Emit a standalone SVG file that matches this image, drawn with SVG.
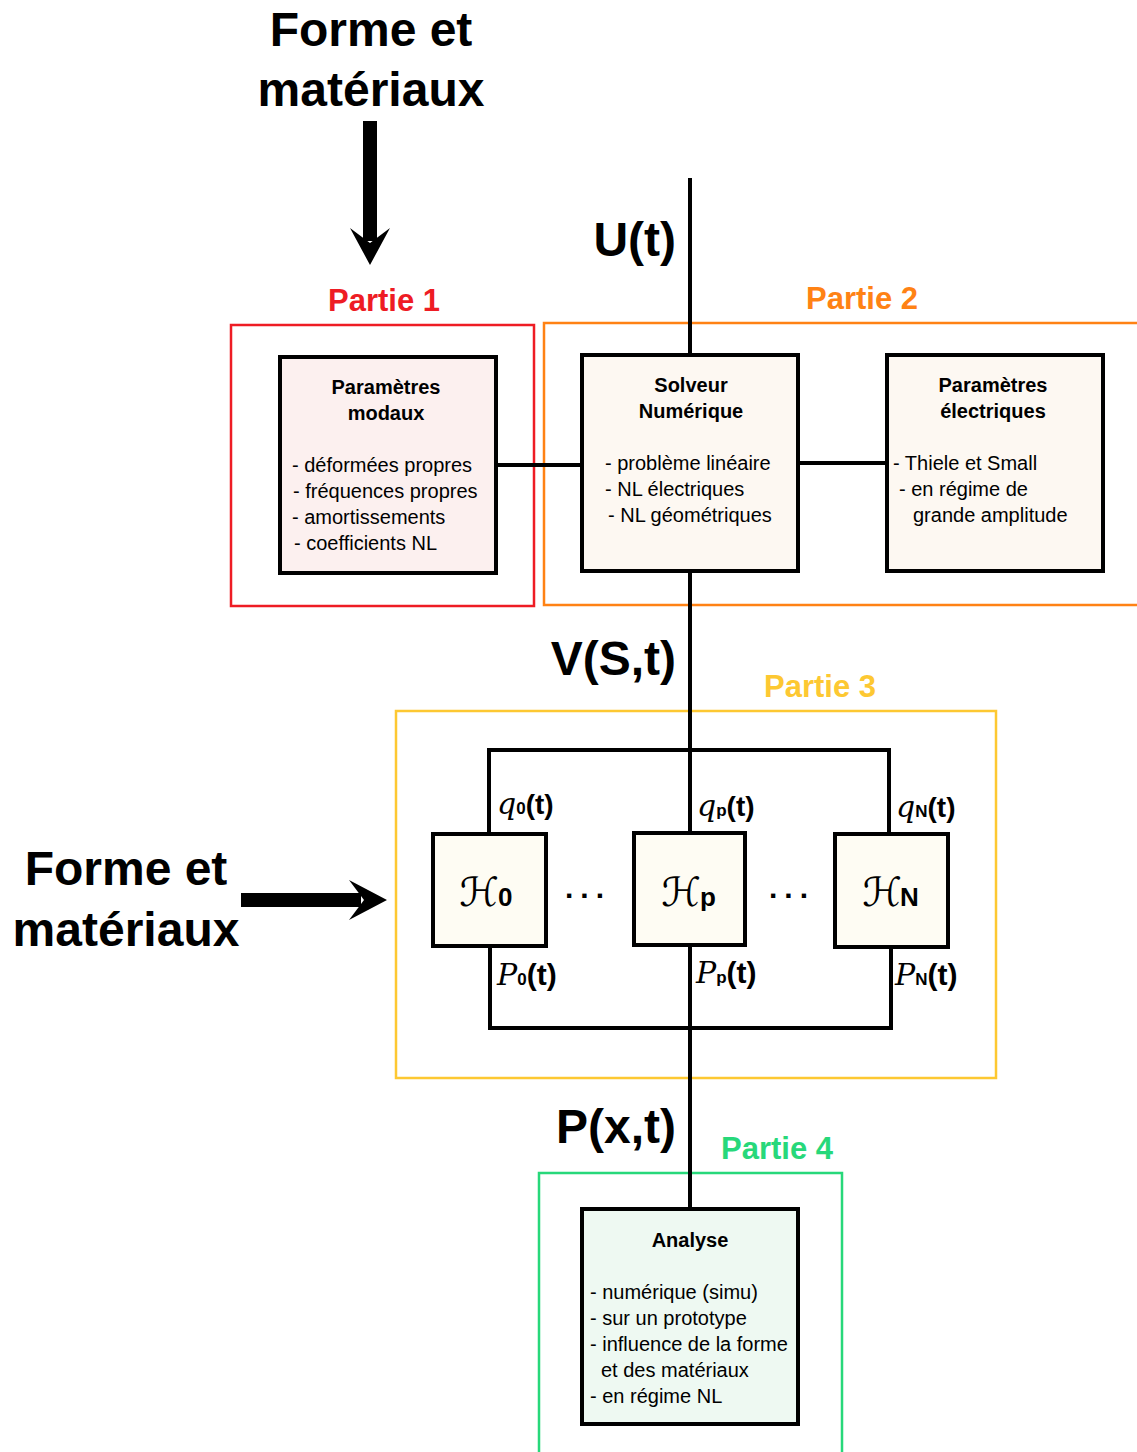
<svg xmlns="http://www.w3.org/2000/svg" width="1137" height="1452" viewBox="0 0 1137 1452">
<style>
.big{font-family:"Liberation Sans",Arial,sans-serif;font-weight:bold;font-size:48px;fill:#000}
.sig{font-family:"Liberation Sans",Arial,sans-serif;font-weight:bold;font-size:48px;fill:#000}
.part{font-family:"Liberation Sans",Arial,sans-serif;font-weight:bold;font-size:31px}
.ttl{font-family:"Liberation Sans",Arial,sans-serif;font-weight:bold;font-size:20px;fill:#000;text-anchor:middle}
.itm{font-family:"Liberation Sans",Arial,sans-serif;font-size:20px;fill:#000}
.box{stroke:#000;stroke-width:4}
.frame{fill:none;stroke-width:2.5}
.wire{fill:none;stroke:#000;stroke-width:4}
.scr{font-family:"DejaVu Serif","Liberation Serif",serif;font-style:italic;fill:#000}
.hs{font-family:"DejaVu Serif","DejaVu Sans",serif;font-style:normal;fill:#000}
.sub{font-family:"Liberation Sans",Arial,sans-serif;font-weight:bold;fill:#000}
</style>
<rect width="1137" height="1452" fill="#fff"/>

<g id="input-top">
<text class="big" x="371" y="46" text-anchor="middle">Forme et</text>
<text class="big" x="371" y="106" text-anchor="middle">matériaux</text>
<rect x="363" y="121" width="14" height="120"/>
<polygon points="370,265 350,228 370,243 390,228"/>
</g>

<g id="input-left">
<text class="big" x="126" y="885" text-anchor="middle">Forme et</text>
<text class="big" x="126" y="946" text-anchor="middle">matériaux</text>
<rect x="241" y="893" width="120" height="14"/>
<polygon points="387,900 349,880 364,900 349,920"/>
</g>

<g id="partie1">
<rect class="frame" x="231" y="325" width="303" height="281" stroke="#ee1c24"/>
<text class="part" x="384" y="311" text-anchor="middle" fill="#ee1c24">Partie 1</text>
</g>
<g id="partie2">
<rect class="frame" x="544" y="323" width="600" height="282" stroke="#ff8214"/>
<text class="part" x="862" y="309" text-anchor="middle" fill="#ff8214">Partie 2</text>
</g>
<g id="partie3">
<rect class="frame" x="396" y="711" width="600" height="367" stroke="#fdc832"/>
<text class="part" x="820" y="697" text-anchor="middle" fill="#fdc832">Partie 3</text>
</g>
<g id="partie4">
<rect class="frame" x="539" y="1173" width="303" height="290" stroke="#27d87a"/>
<text class="part" x="777" y="1159" text-anchor="middle" fill="#27d87a">Partie 4</text>
</g>

<g id="connectors">
<line class="wire" x1="690" y1="178" x2="690" y2="1210"/>
<line class="wire" x1="496" y1="465" x2="582" y2="465"/>
<line class="wire" x1="798" y1="463" x2="887" y2="463"/>
<polyline class="wire" points="489,834 489,750 889,750 889,834"/>
<polyline class="wire" points="490,946 490,1028 891,1028 891,946"/>
</g>

<g id="signals">
<text class="sig" x="676" y="256" text-anchor="end">U(t)</text>
<text class="sig" x="676" y="675" text-anchor="end">V(S,t)</text>
<text class="sig" x="676" y="1143" text-anchor="end">P(x,t)</text>
</g>

<g id="parametres-modaux">
<rect class="box" x="280" y="357" width="216" height="216" fill="#fcf0ef"/>
<text class="ttl" x="386" y="394">Paramètres</text>
<text class="ttl" x="386" y="420">modaux</text>
<text class="itm" x="292" y="472">- déformées propres</text>
<text class="itm" x="293" y="498">- fréquences propres</text>
<text class="itm" x="292" y="524">- amortissements</text>
<text class="itm" x="294" y="550">- coefficients NL</text>
</g>

<g id="solveur">
<rect class="box" x="582" y="355" width="216" height="216" fill="#fdf8f2"/>
<text class="ttl" x="691" y="392">Solveur</text>
<text class="ttl" x="691" y="418">Numérique</text>
<text class="itm" x="605" y="470">- problème linéaire</text>
<text class="itm" x="605" y="496">- NL électriques</text>
<text class="itm" x="608" y="522">- NL géométriques</text>
</g>

<g id="parametres-electriques">
<rect class="box" x="887" y="355" width="216" height="216" fill="#fdf8f2"/>
<text class="ttl" x="993" y="392">Paramètres</text>
<text class="ttl" x="993" y="418">électriques</text>
<text class="itm" x="893" y="470">- Thiele et Small</text>
<text class="itm" x="899" y="496">- en régime de</text>
<text class="itm" x="913" y="522">grande amplitude</text>
</g>

<g id="H0">
<rect class="box" x="433" y="834" width="113" height="112" fill="#fefcf3"/>
<text class="hs" x="479" y="906" font-size="40" text-anchor="middle">ℋ</text>
<text class="sub" x="498" y="906" font-size="26">0</text>
</g>
<g id="Hp">
<rect class="box" x="634" y="833" width="111" height="112" fill="#fefcf3"/>
<text class="hs" x="681" y="906" font-size="40" text-anchor="middle">ℋ</text>
<text class="sub" x="700" y="906" font-size="26">p</text>
</g>
<g id="HN">
<rect class="box" x="835" y="834" width="113" height="113" fill="#fefcf3"/>
<text class="hs" x="882" y="906" font-size="40" text-anchor="middle">ℋ</text>
<text class="sub" x="900" y="906" font-size="26">N</text>
</g>

<g id="dots">
<text class="sub" x="565" y="898" font-size="30" letter-spacing="7">...</text>
<text class="sub" x="769" y="898" font-size="30" letter-spacing="7">...</text>
</g>

<g id="labels-q">
<text x="497" y="814"><tspan class="scr" font-size="30">q</tspan><tspan class="sub" font-size="17">0</tspan><tspan class="sub" font-size="28">(t)</tspan></text>
<text x="697" y="816"><tspan class="scr" font-size="30">q</tspan><tspan class="sub" font-size="17">p</tspan><tspan class="sub" font-size="28">(t)</tspan></text>
<text x="896" y="817"><tspan class="scr" font-size="30">q</tspan><tspan class="sub" font-size="17">N</tspan><tspan class="sub" font-size="28">(t)</tspan></text>
</g>
<g id="labels-P">
<text x="497" y="985"><tspan class="scr" font-size="30">P</tspan><tspan class="sub" font-size="17">0</tspan><tspan class="sub" font-size="30">(t)</tspan></text>
<text x="696" y="983"><tspan class="scr" font-size="30">P</tspan><tspan class="sub" font-size="17">p</tspan><tspan class="sub" font-size="30">(t)</tspan></text>
<text x="895" y="985"><tspan class="scr" font-size="30">P</tspan><tspan class="sub" font-size="17">N</tspan><tspan class="sub" font-size="30">(t)</tspan></text>
</g>

<g id="analyse">
<rect class="box" x="582" y="1209" width="216" height="215" fill="#eef9f2"/>
<text class="ttl" x="690" y="1247">Analyse</text>
<text class="itm" x="590" y="1299">- numérique (simu)</text>
<text class="itm" x="590" y="1325">- sur un prototype</text>
<text class="itm" x="590" y="1351">- influence de la forme</text>
<text class="itm" x="601" y="1377">et des matériaux</text>
<text class="itm" x="590" y="1403">- en régime NL</text>
</g>
</svg>
